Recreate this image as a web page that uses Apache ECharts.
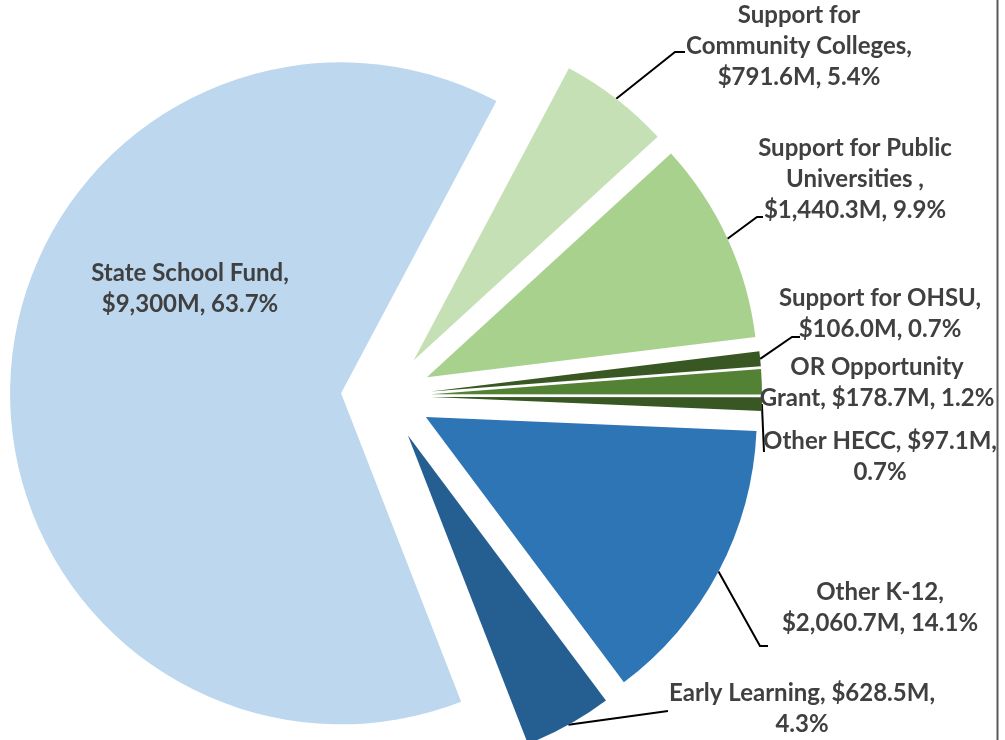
<!DOCTYPE html>
<html>
<head>
<meta charset="utf-8">
<script src="https://cdn.jsdelivr.net/npm/echarts@6/dist/echarts.min.js"></script>
<style>
  html, body { margin: 0; padding: 0; background: #ffffff; }
  #chart { width: 1005px; height: 740px; }
</style>
</head>
<body>
<div id="chart"></div>
<script>
// Education budget categories, in clockwise order from the first slice
const categories = [
  'Support for\nCommunity Colleges',
  'Support for Public\nUniversities ',
  'Support for OHSU',
  'OR Opportunity\nGrant',
  'Other HECC',
  'Other K-12',
  'Early Learning',
  'State School Fund'
];
// Amounts in millions of dollars
const amounts = [791.6, 1440.3, 106.0, 178.7, 97.1, 2060.7, 628.5, 9300];
// Decimal places printed for each amount
const amountDecimals = [1, 1, 1, 1, 1, 1, 1, 0];
// Label separators: [after the name, after the amount]
const labelSeparators = [
  [',\n', ', '], [',\n', ', '], [',\n', ', '], [', ', ', '],
  [', ', ',\n'], [',\n', ', '], [', ', ',\n'], [',\n', ', ']
];

// Slice colours
const sliceColors = ['#C5E0B4', '#A9D18E', '#385723', '#548235', '#385723', '#2E75B6', '#255E91', '#BDD7EE'];

// Layout
const PIE_CENTER = [386, 396];
const PIE_RADIUS = 331;
const EXPLODE = 45;          // every slice is pulled out along its bisector
const START_ANGLE = 62;      // ECharts degrees (90 = 12 o'clock)
// Centre of each label block
const labelAnchors = [[799, 46], [855, 179], [880, 314], [877, 383], [880, 457], [880, 608], [802, 709], [190, 289]];
// Leader-line bends after the slice edge point (null = no leader line)
const leaderBends = [
  [[675, 52], [685, 52]],
  [[757, 217], [763, 217]],
  [[792, 337], [800, 337]],
  null,
  [[764, 452]],
  [[760, 646], [768, 646]],
  [[668, 711]],
  null
];

const total = amounts.reduce((a, b) => a + b, 0);

function formatAmount(i) {
  const d = amountDecimals[i];
  return amounts[i].toLocaleString('en-US', { minimumFractionDigits: d, maximumFractionDigits: d });
}

let cumulative = 0;
const series = amounts.map((v, k) => {
  const midFrac = (cumulative + v / 2) / total;
  cumulative += v;
  const theta = (START_ANGLE - 360 * midFrac) * Math.PI / 180;
  const cx = PIE_CENTER[0] + EXPLODE * Math.cos(theta);
  const cy = PIE_CENTER[1] - EXPLODE * Math.sin(theta);
  const isInside = k === amounts.length - 1;
  return {
    type: 'pie',
    center: [cx, cy],
    radius: PIE_RADIUS,
    startAngle: START_ANGLE,
    clockwise: true,
    silent: true,
    animation: false,
    avoidLabelOverlap: false,
    percentPrecision: 1,
    emphasis: { disabled: true },
    itemStyle: { borderWidth: 0 },
    label: {
      position: isInside ? 'inside' : 'outside',
      overflow: 'none',
      color: '#404040',
      fontFamily: 'Lato',
      fontWeight: 'bold',
      fontSize: 24,
      lineHeight: 31,
      align: 'center',
      formatter: (p) => {
        const i = p.dataIndex;
        const s = labelSeparators[i];
        return categories[i] + s[0] + '$' + formatAmount(i) + 'M' + s[1] + p.percent.toFixed(1) + '%';
      }
    },
    labelLine: {
      length: 10,
      length2: 10,
      smooth: false,
      lineStyle: { color: '#000000', width: 2 }
    },
    labelLayout: (p) => {
      const i = p.dataIndex;
      if (i !== k) return {};
      const out = {
        x: labelAnchors[i][0],
        y: labelAnchors[i][1],
        align: 'center',
        verticalAlign: 'middle'
      };
      if (leaderBends[i] && p.labelLinePoints) {
        out.labelLinePoints = [p.labelLinePoints[0]].concat(leaderBends[i]);
      }
      return out;
    },
    data: amounts.map((val, i) => ({
      name: categories[i],
      value: val,
      itemStyle: { color: sliceColors[i], opacity: i === k ? 1 : 0 },
      label: { show: i === k },
      labelLine: { show: i === k && leaderBends[i] != null }
    }))
  };
});

const chart = echarts.init(document.getElementById('chart'), null, { renderer: 'canvas' });
chart.setOption({
  backgroundColor: '#ffffff',
  animation: false,
  series: series,
  graphic: [{
    type: 'line',
    silent: true,
    shape: { x1: 997.5, y1: 0, x2: 997.5, y2: 740 },
    style: { stroke: '#595959', lineWidth: 2 }
  }]
});
</script>
</body>
</html>
